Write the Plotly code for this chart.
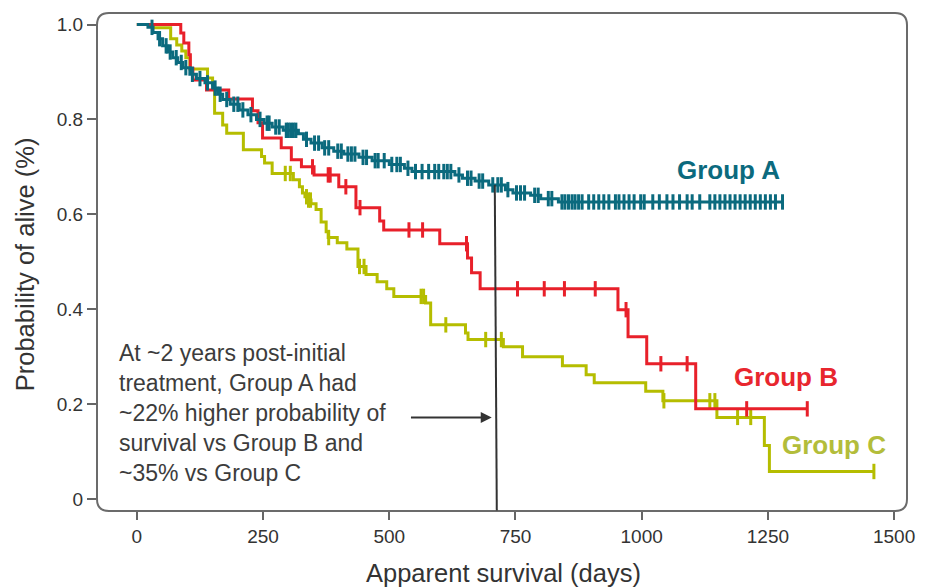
import plotly.graph_objects as go

# ---------------- data ----------------
x_tick_vals = [0, 250, 500, 750, 1000, 1250, 1500]
y_tick_vals = [0, 0.2, 0.4, 0.6, 0.8, 1.0]
y_tick_text = ["0", "0.2", "0.4", "0.6", "0.8", "1.0"]

# Group A (teal)
a_times = [0, 22, 32, 42, 51, 61, 71, 81, 91, 105, 118, 135, 150, 160, 170, 185, 203, 220, 237,
           252, 268, 290, 320, 330, 345, 367, 390, 410, 440, 466, 500, 530, 545, 630, 645, 670,
           697, 730, 745, 780, 800, 835]
a_surv = [1.0, 0.994, 0.983, 0.97, 0.955, 0.942, 0.93, 0.92, 0.909, 0.895, 0.886, 0.877, 0.866,
          0.853, 0.842, 0.832, 0.82, 0.81, 0.8, 0.792, 0.784, 0.777, 0.77, 0.758, 0.75, 0.74,
          0.733, 0.727, 0.72, 0.713, 0.705, 0.697, 0.69, 0.683, 0.676, 0.67, 0.662, 0.652,
          0.645, 0.64, 0.633, 0.626]
a_end = 1279
a_cens = [30, 45, 58, 66, 78, 88, 97, 110, 125, 140, 155, 165, 178, 192, 200, 210, 226, 244, 258,
          262, 275, 282, 296, 300, 305, 310, 315, 336, 352, 360, 372, 380, 398, 405, 418, 425,
          432, 448, 455, 472, 478, 490, 505, 515, 522, 537, 552, 565, 578, 590, 598, 608, 615,
          622, 638, 655, 662, 678, 685, 705, 715, 722, 735, 752, 760, 768, 788, 795, 815, 822,
          842, 848, 855, 862, 868, 875, 882, 895, 905, 915, 925, 935, 948, 955, 965, 975, 985,
          998, 1005, 1022, 1035, 1050, 1062, 1075, 1090, 1100, 1115, 1135, 1145, 1155, 1165,
          1175, 1185, 1195, 1205, 1215, 1225, 1235, 1245, 1255, 1265, 1279]

# Group B (red)
b_times = [0, 87, 93, 103, 106, 111, 138, 182, 229, 240, 249, 286, 306, 326, 351, 400, 434, 481,
           489, 600, 655, 663, 680, 953, 973, 1010, 1107]
b_surv = [1.0, 0.982, 0.961, 0.936, 0.908, 0.883, 0.862, 0.843, 0.818, 0.793, 0.761, 0.74, 0.715,
          0.70, 0.683, 0.658, 0.614, 0.586, 0.567, 0.538, 0.508, 0.477, 0.443, 0.399, 0.342,
          0.285, 0.19]
b_end = 1328
b_cens = [348, 379, 383, 414, 442, 539, 566, 653, 754, 807, 847, 908, 969, 1038, 1090, 1208, 1328]

# Group C (olive)
c_times = [0, 32, 67, 79, 89, 97, 105, 140, 150, 154, 170, 178, 211, 247, 253, 268, 310, 322, 328,
           333, 338, 345, 355, 365, 375, 379, 397, 416, 438, 454, 476, 495, 509, 572, 582, 651,
           656, 726, 764, 843, 890, 906, 1008, 1042, 1149, 1243, 1253]
c_surv = [1.0, 0.993, 0.97, 0.957, 0.944, 0.93, 0.906, 0.887, 0.873, 0.813, 0.788, 0.771, 0.736,
          0.722, 0.708, 0.686, 0.673, 0.658, 0.645, 0.637, 0.63, 0.622, 0.61, 0.584, 0.563,
          0.551, 0.54, 0.527, 0.49, 0.473, 0.458, 0.443, 0.427, 0.413, 0.367, 0.35, 0.336,
          0.321, 0.30, 0.281, 0.262, 0.245, 0.227, 0.207, 0.172, 0.113, 0.058]
c_end = 1460
c_cens = [294, 304, 336, 340, 344, 380, 441, 450, 563, 568, 612, 691, 722, 1044, 1135, 1145,
          1190, 1216, 1460]

groups = [
    ("Group C", c_times, c_surv, c_end, c_cens, "#b5bd00"),
    ("Group B", b_times, b_surv, b_end, b_cens, "#e8202a"),
    ("Group A", a_times, a_surv, a_end, a_cens, "#0b6a7e"),
]

annotation_text = ("At ~2 years post-initial<br>treatment, Group A had<br>"
                   "~22% higher probability of<br>survival vs Group B and<br>~35% vs Group C")


def surv_at(times, surv, t):
    val = surv[0]
    for ti, si in zip(times, surv):
        if ti <= t:
            val = si
        else:
            break
    return val


fig = go.Figure()
for name, times, surv, end, cens, color in groups:
    xs = list(times) + [end]
    ys = list(surv) + [surv[-1]]
    fig.add_trace(go.Scatter(x=xs, y=ys, mode="lines", line=dict(color=color, width=3, shape="hv"),
                             name=name, showlegend=False, hoverinfo="skip"))
    fig.add_trace(go.Scatter(x=cens, y=[surv_at(times, surv, t) for t in cens], mode="markers",
                             marker=dict(symbol="line-ns", size=11,
                                         line=dict(color=color, width=3)),
                             showlegend=False, hoverinfo="skip"))

# ---------------- layout ----------------
W, H = 927, 587
ml, mr, mt, mb = 97, 17, 13, 76
pw, ph = W - ml - mr, H - mt - mb
rx, ry = 12 / pw, 12 / ph
box_path = (f"M {rx},0 L {1-rx},0 Q 1,0 1,{ry} L 1,{1-ry} Q 1,1 {1-rx},1 "
            f"L {rx},1 Q 0,1 0,{1-ry} L 0,{ry} Q 0,0 {rx},0 Z")

font_family = "Liberation Sans, Arial, sans-serif"
fig.update_layout(
    width=W, height=H,
    margin=dict(l=ml, r=mr, t=mt, b=mb),
    paper_bgcolor="white", plot_bgcolor="white",
    font=dict(family=font_family, color="#333333"),
    shapes=[
        dict(type="path", xref="paper", yref="paper", path=box_path,
             line=dict(color="#6b6b6b", width=2), layer="below"),
        dict(type="line", xref="x", yref="y", x0=709, y0=0.662, x1=713, y1=-0.024,
             line=dict(color="#333333", width=2)),
    ],
    annotations=[
        dict(text="Apparent survival (days)", xref="paper", yref="paper",
             x=(505 - ml) / pw, y=(H - mb - 573) / ph, showarrow=False,
             font=dict(size=25.5, color="#333333"), xanchor="center", yanchor="middle"),
        dict(text="Probability of alive (%)", xref="paper", yref="paper",
             x=(25 - ml) / pw, y=(H - mb - 264) / ph, showarrow=False, textangle=-90,
             font=dict(size=25.5, color="#333333"), xanchor="center", yanchor="middle"),
        dict(text=annotation_text, xref="x", yref="y", x=-40, y=0.181, showarrow=False,
             align="left", xanchor="left", yanchor="middle",
             font=dict(size=23, color="#3c3c3c")),
        dict(text="", xref="x", yref="y", x=703, y=0.172, ax=540, ay=0.172,
             axref="x", ayref="y", showarrow=True, arrowhead=2, arrowsize=1.1,
             arrowwidth=2, arrowcolor="#333333"),
        dict(text="<b>Group A</b>", xref="x", yref="y", x=1172, y=0.694, showarrow=False,
             font=dict(size=26, color="#0b6a7e")),
        dict(text="<b>Group B</b>", xref="x", yref="y", x=1285, y=0.258, showarrow=False,
             font=dict(size=26, color="#e8262e")),
        dict(text="<b>Group C</b>", xref="x", yref="y", x=1380, y=0.113, showarrow=False,
             font=dict(size=26, color="#b3bd3a")),
    ],
)

fig.update_xaxes(range=[(ml - 137) / 0.5067, (W - mr - 137) / 0.5067],
                 tickvals=x_tick_vals, showgrid=False, zeroline=False, showline=False,
                 ticks="outside", ticklen=8, tickwidth=1.5, tickcolor="#666666",
                 tickfont=dict(size=19, color="#333333"))
fig.update_yaxes(range=[(499 - (H - mb)) / 474.5, (499 - mt) / 474.5],
                 tickvals=y_tick_vals, ticktext=y_tick_text, showgrid=False, zeroline=False,
                 showline=False, ticks="outside", ticklen=9, tickwidth=1.5, tickcolor="#666666",
                 tickfont=dict(size=19, color="#333333"))

fig.write_html("out.html", config={"displayModeBar": False},
               post_script="document.body.style.margin='0';document.body.style.padding='0';")
